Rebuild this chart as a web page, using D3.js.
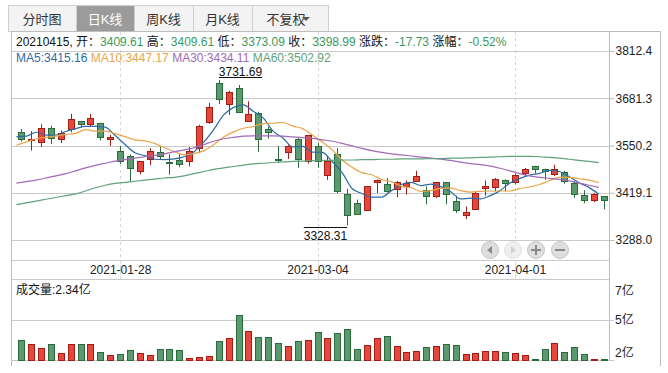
<!DOCTYPE html>
<html>
<head>
<meta charset="utf-8">
<script src="https://cdn.jsdelivr.net/npm/d3@7"></script>
<style>
  body { margin: 0; background: #fff; }
  svg { font-family: "Liberation Sans", Arial, "Noto Sans CJK SC", sans-serif; }
</style>
</head>
<body>
<div id="chart"></div>
<script>
// ---- data ----
const dates = [
  '2021-01-14','2021-01-15','2021-01-18','2021-01-19','2021-01-20','2021-01-21','2021-01-22','2021-01-25','2021-01-26','2021-01-27',
  '2021-01-28','2021-01-29','2021-02-01','2021-02-02','2021-02-03','2021-02-04','2021-02-05','2021-02-08','2021-02-09','2021-02-10',
  '2021-02-18','2021-02-19','2021-02-22','2021-02-23','2021-02-24','2021-02-25','2021-02-26','2021-03-01','2021-03-02','2021-03-03',
  '2021-03-04','2021-03-05','2021-03-08','2021-03-09','2021-03-10','2021-03-11','2021-03-12','2021-03-15','2021-03-16','2021-03-17',
  '2021-03-18','2021-03-19','2021-03-22','2021-03-23','2021-03-24','2021-03-25','2021-03-26','2021-03-29','2021-03-30','2021-03-31',
  '2021-04-01','2021-04-02','2021-04-06','2021-04-07','2021-04-08','2021-04-09','2021-04-12','2021-04-13','2021-04-14','2021-04-15'
];
const opens = [3589,3567,3560,3598,3568,3596,3618,3609,3612,3568, 3535,3522,3479,3513,3532,3505,3511,3508,3543,3614,
  3724,3665,3709,3619,3640,3596,3514,3532,3568,3506, 3549,3467,3528,3417,3391,3372,3449,3444,3430,3438,
  3453,3426,3409,3448,3397,3358,3374,3432,3435,3455, 3449,3474,3493,3486,3471,3477,3446,3413,3399,3409.61];
const highs = [3596,3590,3609,3605,3592,3638,3619,3638,3613,3580, 3549,3525,3507,3543,3547,3526,3526,3546,3608,3668,
  3731.69,3702,3718,3673,3644,3603,3549,3551,3573,3579, 3557,3520,3543,3430,3400,3438,3456,3460,3452,3453,
  3480,3437,3448,3448,3411,3381,3423,3453,3460,3456, 3472,3488,3494,3486,3497,3480,3451,3426,3418,3409.61];
const lows = [3561,3536,3546,3554,3557,3587,3600,3603,3564,3549, 3499,3450,3470,3496,3510,3469,3490,3492,3529,3610,
  3665,3635,3641,3618,3532,3569,3503,3513,3488,3500, 3488,3455,3418,3328.31,3358,3372,3418,3420,3407,3414,
  3453,3387,3405,3387,3363,3346,3374,3411,3423,3423, 3442,3465,3472,3455,3465,3444,3405,3390,3393,3373.09];
const closes = [3570,3569,3598,3571,3585,3623,3609,3626,3573,3573, 3507,3488,3507,3536,3521,3503,3499,3536,3605,3656,
  3679,3698,3643,3638,3568,3587,3512,3550,3513,3578, 3506,3506,3424,3359,3360,3438,3455,3424,3449,3446,
  3466,3408,3448,3414,3372,3367,3419,3438,3457,3446, 3468,3485,3485,3481,3486,3453,3416,3399,3417,3398.99];
// volume in 亿
const volumes = [3.63,3.36,3.09,3.36,2.75,3.36,3.36,3.36,2.82,2.61, 2.68,2.95,2.75,2.61,3.02,3.02,2.95,2.41,2.47,2.54,
  3.57,3.77,5.36,4.25,3.84,3.84,3.43,3.23,3.57,3.63, 4.18,3.77,4.11,4.39,3.02,3.29,3.77,3.91,3.23,2.82,
  2.88,3.16,3.23,3.36,3.29,2.68,2.75,2.88,2.88,2.82, 2.75,2.61,2.29,3.02,3.43,2.82,3.16,2.68,2.28,2.34];
const ma5 = [3575,3576,3587,3579,3579,3589,3597,3603,3603,3601, 3578,3553,3530,3522,3512,3511,3513,3519,3533,3560,
  3595,3635,3656,3663,3645,3627,3590,3571,3546,3548, 3532,3531,3505,3475,3431,3417,3407,3407,3425,3442,
  3448,3439,3443,3436,3422,3402,3404,3402,3411,3425, 3446,3459,3468,3473,3481,3478,3464,3447,3434,3415.16];
const ma10 = [3551,3560,3569,3573,3576,3581,3584,3594,3590,3590, 3583,3575,3566,3563,3556,3544,3533,3524,3528,3536,
  3553,3574,3588,3598,3603,3611,3612,3614,3604,3597, 3579,3560,3538,3510,3490,3475,3469,3456,3450,3437,
  3433,3423,3425,3431,3432,3425,3421,3423,3424,3424, 3424,3431,3435,3442,3453,3462,3462,3458,3454,3447.17];
const ma30 = [3446,3450,3454,3460,3466,3472,3480,3488,3495,3501, 3507,3511,3515,3519,3523,3527,3533,3538,3544,3553,
  3562,3569,3573,3576,3577,3577,3577,3576,3574,3572, 3570,3566,3562,3556,3549,3542,3536,3531,3527,3524,
  3521,3518,3515,3512,3509,3504,3500,3497,3493,3487, 3480,3472,3466,3462,3459,3456,3452,3446,3440,3434.11];
const ma60 = [3386,3391,3396,3401,3406,3411,3416,3424,3433,3440, 3445,3448,3451,3454,3457,3460,3462,3466,3472,3478,
  3484,3488,3492,3496,3499,3501,3503,3505,3506,3507, 3508,3509,3509,3510,3510,3511,3511,3512,3512,3513,
  3513,3513,3514,3514,3515,3515,3516,3517,3518,3519, 3520,3520,3520,3519,3517,3515,3512,3509,3506,3502.92];

const priceTicks = [3812.4, 3681.3, 3550.2, 3419.1, 3288.0];
const volumeTicks = [7, 5, 2];
const dateTicks = ['2021-01-28', '2021-03-04', '2021-04-01'];
const tabs = ['分时图', '日K线', '周K线', '月K线', '不复权'];
const quoteLabels = ['开', '高', '低', '收', '涨跌', '涨幅'];
const quoteValues = ['3409.61', '3409.61', '3373.09', '3398.99', '-17.73', '-0.52%'];
const maNames = ['MA5', 'MA10', 'MA30', 'MA60'];
const maValues = ['3415.16', '3447.17', '3434.11', '3502.92'];

// ---- styling ----
const upFill = '#e5473b', upStroke = '#a11d15';
const downFill = '#5b9a6e', downStroke = '#2b6a3a';
const maColors = ['#2f6aa3', '#e8a54b', '#a269b8', '#5fa27c'];
const gridColor = '#c9c9c9';
const frameColor = '#bdbdbd';

const chartW = 668, chartH = 373;
const plotRight = 609, plotTop = 51;

const svg = d3.select('#chart').append('svg')
  .attr('width', chartW)
  .attr('height', chartH);

// scales
const x = d3.scalePoint().domain(dates).range([21.4, 603.8]);
const y = d3.scaleLinear().domain([3288.0, 3812.4]).range([240, plotTop]);
const yVol = d3.scaleLinear().domain([2.27, 7.8]).range([360, 279]);
const lineShift = -5;

const px = v => Math.round(v) + 0.5;

// ---- tabs ----
const tabX = [8, 76, 134, 193, 252, 328];
const gTabs = svg.append('g');
tabs.forEach((t, i) => {
  const sel = i === 1;
  gTabs.append('rect')
    .attr('x', tabX[i] + 0.5).attr('y', 5.5)
    .attr('width', tabX[i + 1] - tabX[i]).attr('height', 26)
    .attr('fill', sel ? '#9b9b9b' : '#f3f3f3')
    .attr('stroke', '#cfcfcf');
  const cx = (tabX[i] + tabX[i + 1]) / 2 + (i === 4 ? -4 : 0);
  gTabs.append('text')
    .attr('x', cx).attr('y', 19)
    .attr('text-anchor', 'middle')
    .attr('dominant-baseline', 'central')
    .attr('font-size', 13)
    .attr('fill', sel ? '#fff' : '#333')
    .text(t);
});
// dropdown arrow of the last tab
gTabs.append('path')
  .attr('d', 'M302,17 L310,17 L306,21 Z')
  .attr('fill', '#555');

// ---- frame ----
const frame = svg.append('g').attr('stroke', frameColor).attr('fill', 'none');
frame.append('line').attr('x1', 11.5).attr('x2', 660.5).attr('y1', 31.5).attr('y2', 31.5);
frame.append('line').attr('x1', 11.5).attr('x2', 11.5).attr('y1', 31.5).attr('y2', 366);
frame.append('line').attr('x1', 660.5).attr('x2', 660.5).attr('y1', 31.5).attr('y2', 366);
frame.append('line').attr('x1', px(plotRight)).attr('x2', px(plotRight)).attr('y1', 31.5).attr('y2', 360.5);

// vertical dashed date grid
const gDateGrid = svg.append('g');
dateTicks.forEach(d => {
  gDateGrid.append('line')
    .attr('x1', px(x(d))).attr('x2', px(x(d)))
    .attr('y1', 32).attr('y2', 260)
    .attr('stroke', '#d6d6d6').attr('stroke-dasharray', '3,3');
  gDateGrid.append('line')
    .attr('x1', px(x(d))).attr('x2', px(x(d)))
    .attr('y1', 261).attr('y2', 279)
    .attr('stroke', '#e0e0e0');
});

// price grid + axis
svg.append('g')
  .selectAll('line')
  .data(priceTicks)
  .join('line')
  .attr('x1', 11.5).attr('x2', plotRight)
  .attr('y1', d => px(y(d))).attr('y2', d => px(y(d)))
  .attr('stroke', gridColor);

const yAxis = svg.append('g')
  .attr('transform', `translate(${plotRight + 0.5},0)`)
  .call(d3.axisRight(y).tickValues(priceTicks).tickSize(5).tickFormat(d3.format('.1f')));
yAxis.select('.domain').remove();
yAxis.selectAll('.tick line').attr('stroke', frameColor);
yAxis.selectAll('.tick text')
  .attr('x', 6).attr('font-size', 12).attr('fill', '#222')
  .attr('font-family', '"Liberation Sans", Arial, sans-serif');

// date band
[260.5, 279.5].forEach(v => {
  svg.append('line').attr('x1', 11.5).attr('x2', px(plotRight)).attr('y1', v).attr('y2', v).attr('stroke', gridColor);
});
const xAxis = svg.append('g')
  .attr('transform', 'translate(0,263)')
  .call(d3.axisBottom(x).tickValues(dateTicks).tickSize(0));
xAxis.select('.domain').remove();
xAxis.selectAll('.tick text')
  .attr('y', 7).attr('dy', '0.32em')
  .attr('font-size', 12).attr('fill', '#222')
  .attr('font-family', '"Liberation Sans", Arial, sans-serif');

// ---- header line ----
const header = svg.append('text')
  .attr('x', 16).attr('y', 42)
  .attr('dominant-baseline', 'central')
  .attr('font-size', 12).attr('fill', '#111');
header.append('tspan').text('20210415, ');
quoteLabels.forEach((l, i) => {
  header.append('tspan').attr('fill', '#111').text((i ? ' ' : '') + l + '：');
  header.append('tspan').attr('fill', '#3b9a5e').text(quoteValues[i]);
});

// MA legend
const legend = svg.append('text')
  .attr('x', 16).attr('y', 58)
  .attr('dominant-baseline', 'central')
  .attr('font-size', 12);
maNames.forEach((n, i) => {
  legend.append('tspan').attr('fill', maColors[i]).text((i ? ' ' : '') + n + ':' + maValues[i]);
});

// ---- candles ----
const candles = dates.map((d, i) => ({
  date: d, open: opens[i], high: highs[i], low: lows[i], close: closes[i], volume: volumes[i]
}));
const isUp = d => d.close >= d.open;

const gCandles = svg.append('g');
gCandles.selectAll('line')
  .data(candles)
  .join('line')
  .attr('x1', d => px(x(d.date))).attr('x2', d => px(x(d.date)))
  .attr('y1', d => y(d.high)).attr('y2', d => y(d.low))
  .attr('stroke', d => isUp(d) ? upStroke : downStroke);
gCandles.selectAll('rect')
  .data(candles)
  .join('rect')
  .attr('x', d => Math.round(x(d.date)) - 3 + 0.5)
  .attr('width', 6)
  .attr('y', d => Math.round(y(Math.max(d.open, d.close))) + 0.5)
  .attr('height', d => Math.max(1, Math.round(Math.abs(y(d.open) - y(d.close)))))
  .attr('fill', d => isUp(d) ? upFill : downFill)
  .attr('stroke', d => isUp(d) ? upStroke : downStroke);

// ---- moving averages ----
const maSeries = [ma5, ma10, ma30, ma60];
const line = d3.line()
  .x((v, i) => x(dates[i]) + lineShift)
  .y(v => y(v))
  .curve(d3.curveMonotoneX);
maSeries.forEach((s, k) => {
  svg.append('path')
    .datum(s)
    .attr('d', line)
    .attr('fill', 'none')
    .attr('stroke', maColors[k])
    .attr('stroke-width', 1.2);
});

// max / min labels
const hiIdx = d3.maxIndex(highs);
const loIdx = d3.minIndex(lows);
const hiX = x(dates[hiIdx]), hiY = y(highs[hiIdx]);
const hiText = svg.append('text')
  .attr('x', hiX).attr('y', hiY - 4)
  .attr('font-size', 12).attr('fill', '#111')
  .text(highs[hiIdx].toFixed(2));
const hiW = hiText.node().getComputedTextLength();
svg.append('line')
  .attr('x1', hiX).attr('x2', hiX + hiW)
  .attr('y1', Math.round(hiY - 3) + 0.5).attr('y2', Math.round(hiY - 3) + 0.5)
  .attr('stroke', '#111');

const loX = x(dates[loIdx]), loY = y(lows[loIdx]);
const loText = svg.append('text')
  .attr('x', loX).attr('y', loY + 15)
  .attr('text-anchor', 'end')
  .attr('font-size', 12).attr('fill', '#111')
  .text(lows[loIdx].toFixed(2));
const loW = loText.node().getComputedTextLength();
svg.append('line')
  .attr('x1', loX - loW).attr('x2', loX)
  .attr('y1', Math.round(loY + 2) + 0.5).attr('y2', Math.round(loY + 2) + 0.5)
  .attr('stroke', '#111');

// navigation buttons
const navX = [490, 513, 536, 560];
const gNav = svg.append('g');
navX.forEach((cx, i) => {
  const disabled = i === 1;
  gNav.append('circle')
    .attr('cx', cx).attr('cy', 250).attr('r', 8.5)
    .attr('fill', disabled ? '#efefef' : '#dedede')
    .attr('stroke', disabled ? '#e2e2e2' : '#c6c6c6');
  const c = disabled ? '#d0d0d0' : '#8a8a8a';
  if (i === 0) gNav.append('path').attr('d', `M${cx - 3},250 L${cx + 2},246 L${cx + 2},254 Z`).attr('fill', c);
  if (i === 1) gNav.append('path').attr('d', `M${cx + 3},250 L${cx - 2},246 L${cx - 2},254 Z`).attr('fill', c);
  if (i >= 2) gNav.append('rect').attr('x', cx - 5).attr('y', 249).attr('width', 10).attr('height', 2).attr('fill', c);
  if (i === 2) gNav.append('rect').attr('x', cx - 1).attr('y', 245).attr('width', 2).attr('height', 10).attr('fill', c);
});

// ---- volume ----
svg.append('text')
  .attr('x', 16).attr('y', 290)
  .attr('dominant-baseline', 'central')
  .attr('font-size', 12).attr('fill', '#111')
  .text('成交量:' + volumes[volumes.length - 1].toFixed(2) + '亿');

svg.append('line')
  .attr('x1', 11.5).attr('x2', plotRight + 5)
  .attr('y1', px(yVol(5))).attr('y2', px(yVol(5)))
  .attr('stroke', gridColor);
svg.append('line')
  .attr('x1', 11.5).attr('x2', plotRight + 5)
  .attr('y1', 360.5).attr('y2', 360.5)
  .attr('stroke', gridColor);

svg.append('g')
  .selectAll('rect')
  .data(candles)
  .join('rect')
  .attr('x', d => Math.round(x(d.date)) - 3 + 0.5)
  .attr('width', 6)
  .attr('y', d => Math.min(359, Math.round(yVol(d.volume))) + 0.5)
  .attr('height', d => Math.max(1, 360 - Math.min(359, Math.round(yVol(d.volume)))))
  .attr('fill', d => isUp(d) ? upFill : downFill)
  .attr('stroke', d => isUp(d) ? upStroke : downStroke);

svg.append('g')
  .selectAll('text')
  .data(volumeTicks)
  .join('text')
  .attr('x', plotRight + 6)
  .attr('y', d => Math.min(353, yVol(d)))
  .attr('dominant-baseline', 'central')
  .attr('font-size', 12).attr('fill', '#222')
  .text(d => d + '亿');
</script>
</body>
</html>
